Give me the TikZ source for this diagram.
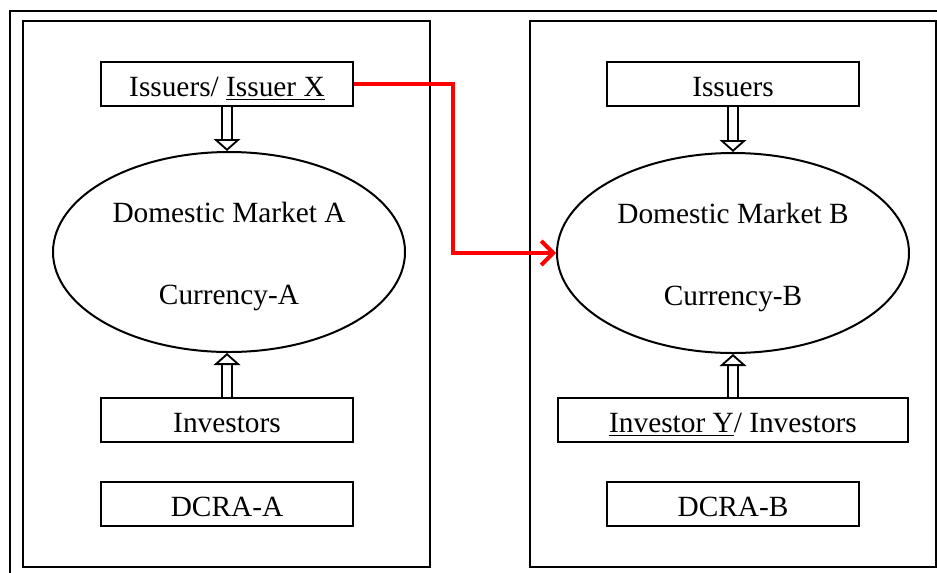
\documentclass[tikz,border=0pt]{standalone}
\usepackage{fontspec}
\setmainfont{Liberation Serif}
\usetikzlibrary{arrows.meta,shapes.geometric}
\tikzset{
	mbox/.style={draw, line width=1.5pt, minimum width=189pt, minimum height=33pt, inner sep=0pt, text height=19pt, text depth=0pt},
	market/.style={draw, ellipse, line width=1.5pt, minimum width=264pt, minimum height=150pt, align=center},
	flow/.style={double, double distance=6pt, line width=1.4pt, -{Triangle[open, length=9pt, width=20pt, line width=1.4pt]}},
	cross/.style={draw=red, line width=3pt, -{Straight Barb[length=9pt,width=18pt]}}
}

\begin{document}
\begin{tikzpicture}[x=0.75pt,y=0.75pt,yscale=-1,xscale=1,font=\fontsize{22}{26}\selectfont]
	\clip (0,0) rectangle (937,572);

	%frames
	\draw [line width=2.2pt] (10,11) rectangle (960,600);
	\draw [line width=1.6pt] (23,21) rectangle (430,567);
	\draw [line width=1.6pt] (530,21) rectangle (936,567);

	%market A
	\node [mbox] (issA) at (227,84) {Issuers/ \underline{Issuer X}};
	\node [market] (mktA) at (229,252) {\rule{0pt}{22pt}Domestic Market A\\[36pt]Currency-A};
	\node [mbox] (invA) at (227,420) {Investors};
	\node [mbox] (dcraA) at (227,504) {DCRA-A};

	%market B
	\node [mbox] (issB) at (733,84) {Issuers};
	\node [market] (mktB) at (733,253) {\rule{0pt}{22pt}Domestic Market B\\[36pt]Currency-B};
	\node [mbox, minimum width=263pt] (invB) at (733,420) {\underline{Investor Y}/ Investors};
	\node [mbox] (dcraB) at (733,504) {DCRA-B};

	\draw [flow] (issA.south) -- (issA.south |- mktA.north);
	\draw [flow] (invA.north) -- (invA.north |- mktA.south);
	\draw [flow] (issB.south) -- (issB.south |- mktB.north);
	\draw [flow] (invB.north) -- (invB.north |- mktB.south);

	\draw [cross] (issA.east) -- (453,84) |- (mktB.west);
\end{tikzpicture}
\end{document}
